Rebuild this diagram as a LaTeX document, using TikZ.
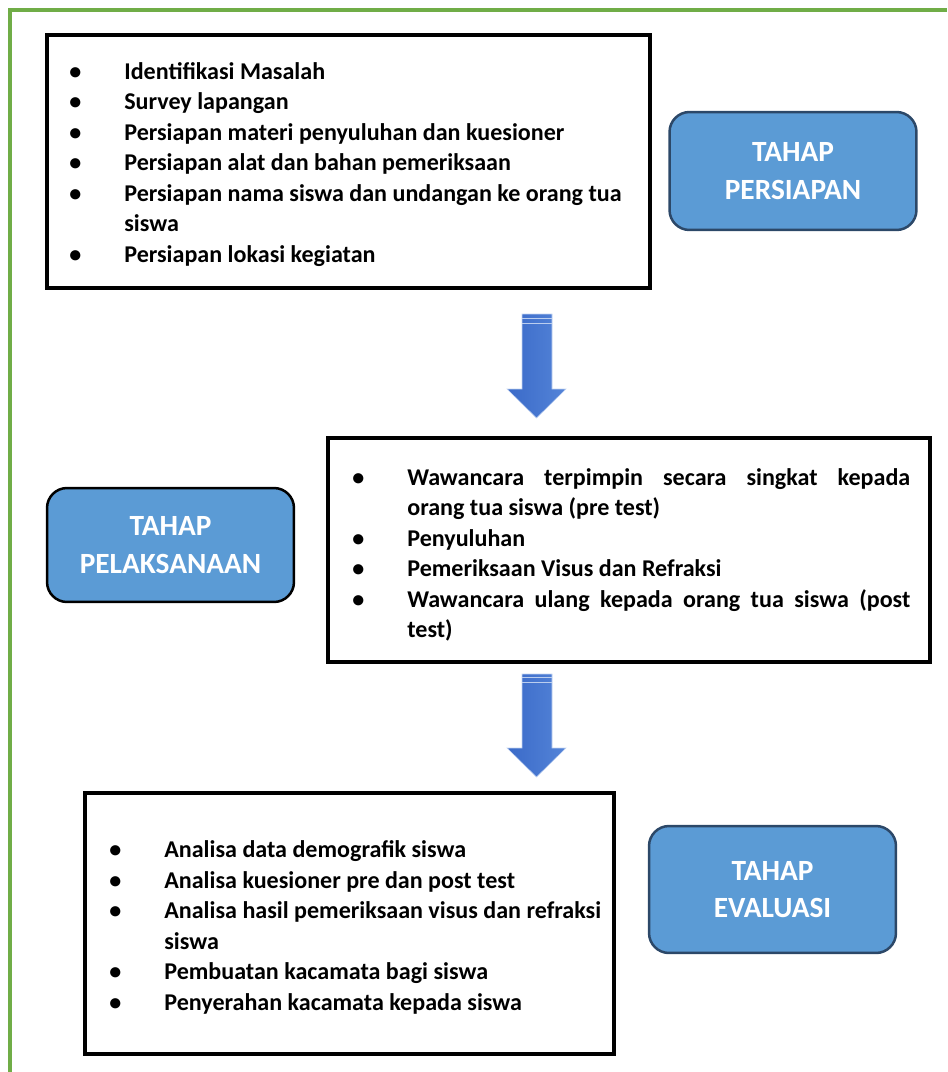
\documentclass[tikz,border=0pt]{standalone}
\usepackage{fontspec}
\setmainfont{Carlito}
\usepackage{tikz}
\usetikzlibrary{positioning}
\definecolor{framegreen}{RGB}{112,173,71}
\definecolor{stepblue}{RGB}{91,155,213}
\definecolor{stepedge}{RGB}{44,72,104}
\definecolor{arrowdark}{RGB}{58,106,200}
\definecolor{arrowlight}{RGB}{84,132,216}
\newcommand{\bulitem}{\makebox[1.1cm][l]{\textbullet}}
\newcommand{\bulcont}{\hspace*{1.1cm}}

\begin{document}
\begin{tikzpicture}[x=0.02cm, y=-0.02cm,
    listbox/.style={draw, line width=0.065cm, inner sep=0pt},
    itemlist/.style={anchor=west, inner sep=0pt, align=left, font=\fontsize{13.7}{17.35}\selectfont\bfseries},
    stepbox/.style={draw=stepedge, fill=stepblue, line width=0.05cm, rounded corners=0.4cm, text=white, align=center, minimum width=4.94cm, font=\fontsize{16.7}{21.5}\selectfont\bfseries},
    blockarrow/.style={left color=arrowdark, right color=arrowlight, draw=white!65!arrowlight, line width=0.3pt},
    stripe/.style={white!60!arrowlight, line width=0.5pt}]
        \useasboundingbox (0,0) rectangle (947,1072);
        % Outer frame
        \draw[framegreen, line width=0.07cm] (10,1072) |- (947,10);

        % Preparation
        \node[listbox, minimum width=12.06cm, minimum height=5.06cm] (prepbox) at (348.5,161.5) {};
        \node[itemlist] (preplist) at (69,164.5) {\bulitem Identifikasi Masalah\\
            \bulitem Survey lapangan\\
            \bulitem Persiapan materi penyuluhan dan kuesioner\\
            \bulitem Persiapan alat dan bahan pemeriksaan\\
            \bulitem Persiapan nama siswa dan undangan ke orang tua\\
            \bulcont siswa\\
            \bulitem Persiapan lokasi kegiatan};
        \node[stepbox, minimum height=2.36cm] (prepstep) at (793,171) {TAHAP\\PERSIAPAN};

        % Arrow 1
        \draw[blockarrow] (522,314) -- (552,314) -- (552,389) -- (566,389) -- (536.5,418) -- (507,389) -- (522,389) -- cycle;
        \draw[stripe] (522,318) -- (552,318);
        \draw[stripe] (522,323) -- (552,323);

        % Execution
        \node[listbox, minimum width=12.04cm, minimum height=4.48cm] (execbox) at (629,550) {};
        \node[itemlist] (execlist) at (352,555) {\bulitem \makebox[10.06cm][s]{Wawancara terpimpin secara singkat kepada}\\
            \bulcont orang tua siswa (pre test)\\
            \bulitem Penyuluhan\\
            \bulitem Pemeriksaan Visus dan Refraksi\\
            \bulitem \makebox[10.06cm][s]{Wawancara ulang kepada orang tua siswa (post}\\
            \bulcont test)};
        \node[stepbox, draw=black, minimum height=2.28cm] (execstep) at (170.5,545) {TAHAP\\PELAKSANAAN};

        % Arrow 2
        \draw[blockarrow] (522,674) -- (552,674) -- (552,748) -- (566,748) -- (536.5,777) -- (507,748) -- (522,748) -- cycle;
        \draw[stripe] (522,677) -- (552,677);
        \draw[stripe] (522,682) -- (552,682);

        % Evaluation
        \node[listbox, minimum width=10.58cm, minimum height=5.22cm] (evalbox) at (349.5,923.5) {};
        \node[itemlist] (evallist) at (109,927.5) {\bulitem Analisa data demografik siswa\\
            \bulitem Analisa kuesioner pre dan post test\\
            \bulitem Analisa hasil pemeriksaan visus dan refraksi\\
            \bulcont siswa\\
            \bulitem Pembuatan kacamata bagi siswa\\
            \bulitem Penyerahan kacamata kepada siswa};
        \node[stepbox, minimum height=2.54cm] (evalstep) at (772.5,889.5) {TAHAP\\EVALUASI};
\end{tikzpicture}
\end{document}
